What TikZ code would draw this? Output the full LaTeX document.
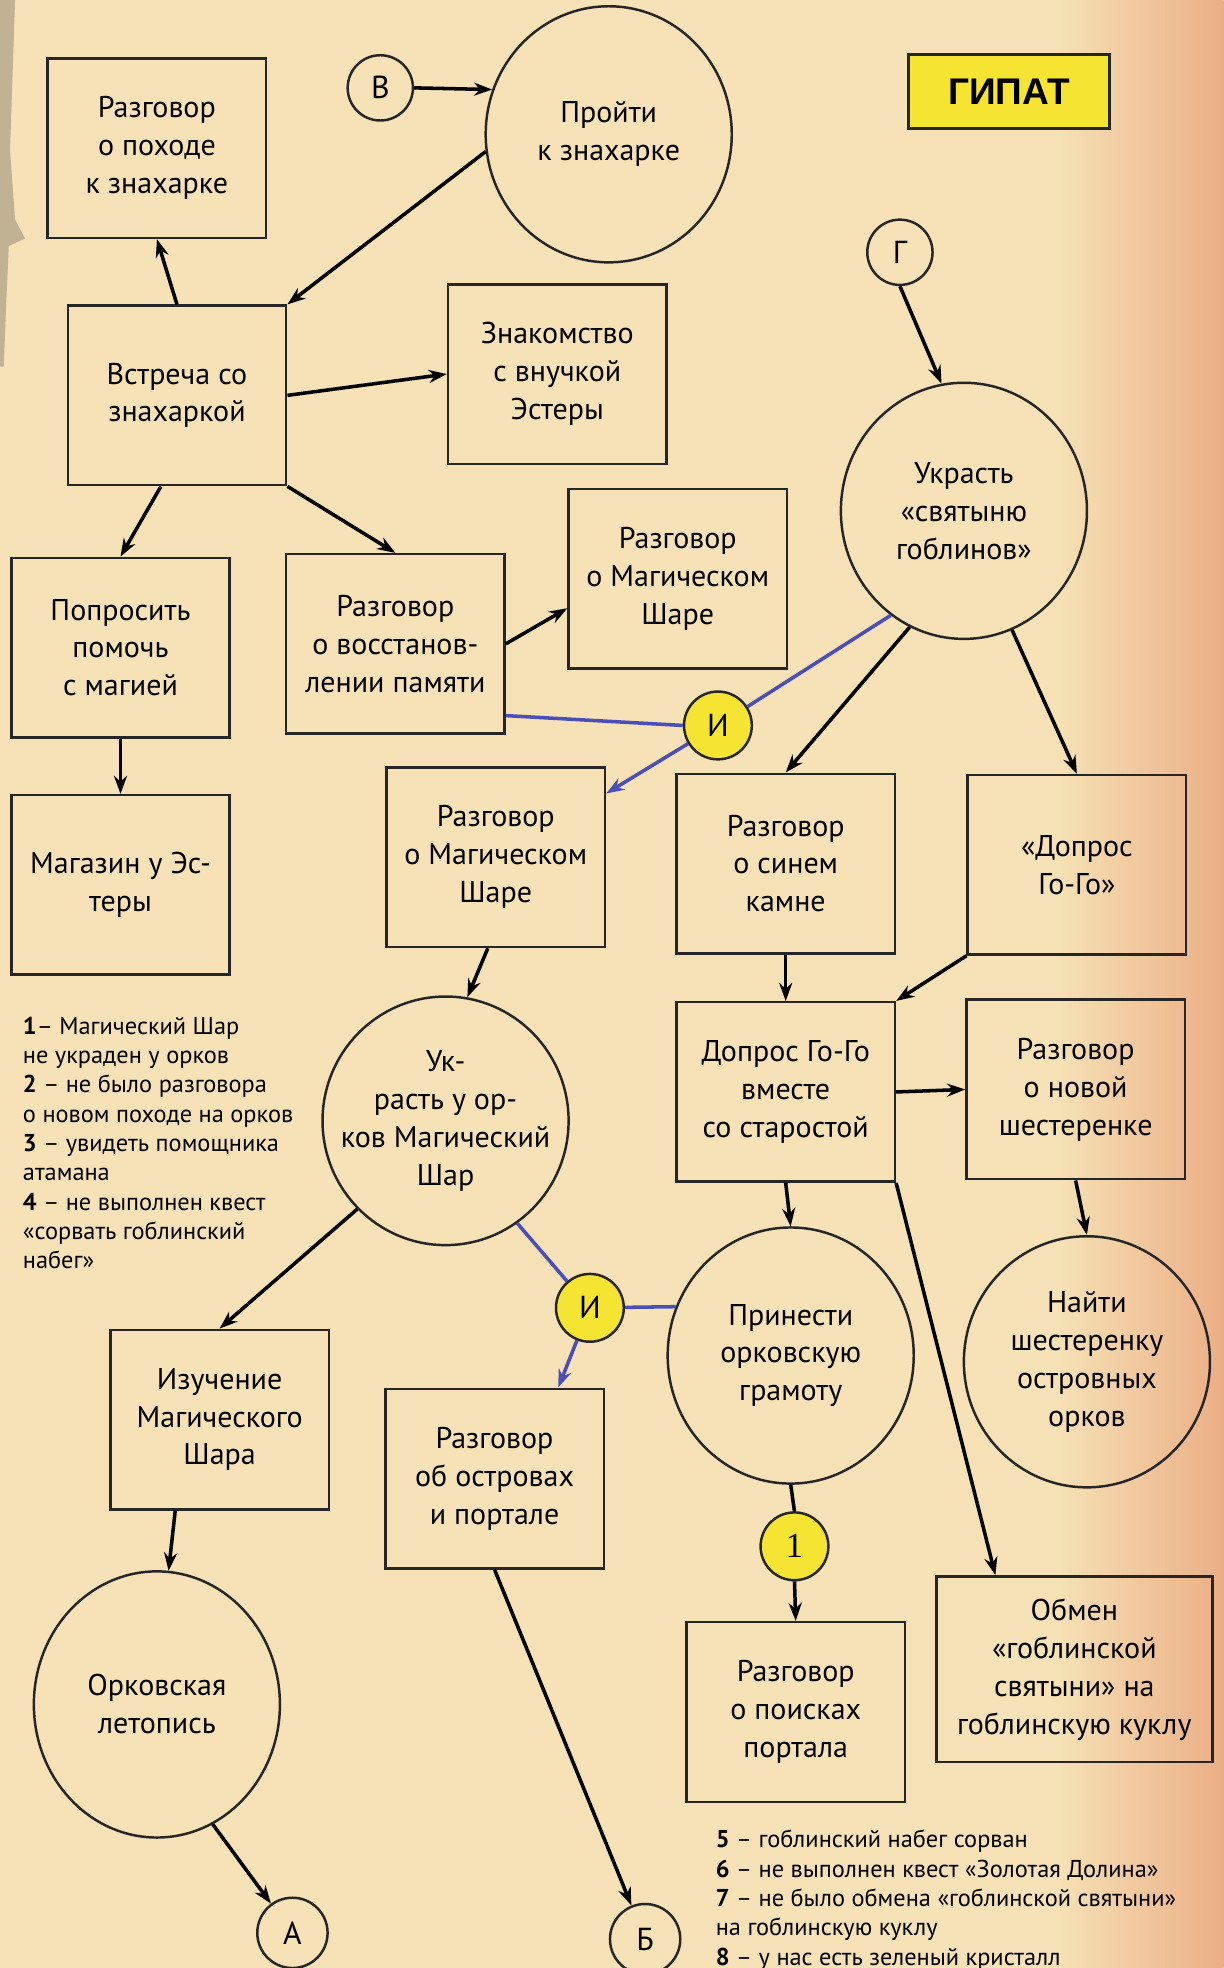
\documentclass[tikz,border=0pt]{standalone}
\usepackage{fontspec}
\setmainfont{PT Sans}
\newfontfamily\titelfont{Liberation Sans}
\newfontfamily\zifferfont{Liberation Serif}
\usetikzlibrary{shapes.geometric, arrows.meta}

\definecolor{papier}{HTML}{F6E2B6}
\definecolor{papierrand}{HTML}{ECAE86}
\definecolor{gelb}{HTML}{F6E433}
\definecolor{lila}{HTML}{4A4FB8}
\definecolor{rissgrau}{HTML}{958B78}

\tikzset{
	kasten/.style={draw=black!85, line width=1.4pt, minimum width=4.35cm, minimum height=3.575cm, inner sep=2pt, align=center, font=\fontsize{17}{21.5}\selectfont},
	blase/.style={ellipse, draw=black!85, line width=1.4pt, minimum width=4.9cm, minimum height=5.1cm, inner sep=0pt},
	blasetext/.style={align=center, font=\fontsize{17}{21.5}\selectfont},
	marke/.style={circle, draw=black!85, line width=1.4pt, minimum size=1.3cm, inner sep=0pt, font=\fontsize{18}{20}\selectfont},
	undkreis/.style={marke, fill=gelb, minimum size=1.35cm},
	pfeil/.style={line width=2pt, -{Stealth[length=3.6mm, width=2.6mm]}},
	linie/.style={line width=2pt},
	blauweg/.style={line width=2pt, draw=lila},
	blaupfeil/.style={pfeil, draw=lila, -{Stealth[length=3.6mm, width=2.6mm, fill=lila]}},
	notiz/.style={anchor=north west, align=left, inner sep=0pt, font=\fontsize{13.8}{16.6}\selectfont}
}

\begin{document}
\begin{tikzpicture}[x=0.025cm, y=-0.025cm]
	\useasboundingbox (0,0) rectangle (975,1568);
	% papier
	\fill[papier] (0,0) rectangle (975,1568);
	\shade[left color=papier, right color=papierrand] (840,0) rectangle (975,1568);
	\fill[rissgrau, opacity=0.55] (0,0) -- (12,0) -- (10,60) -- (8,120) -- (12,175) -- (20,190) -- (7,196) -- (5,240) -- (3,292) -- (0,292) -- cycle;

	% titel
	\node[draw=black!85, fill=gelb, line width=1.4pt, minimum width=4cm, minimum height=1.475cm, font=\titelfont\bfseries\fontsize{21}{24}\selectfont] (titel) at (804,73) {ГИПАТ};

	% obere reihe
	\node[kasten] (feldzug) at (125,118) {Разговор\\о походе\\к знахарке};
	\node[marke] (vorB) at (303,70) {В};
	\node[blase, label={[blasetext]center:Пройти\\к знахарке}] (gehen) at (485,107) {};
	\node[kasten] (treffen) at (141,315) {Встреча со\\знахаркой};
	\node[kasten] (enkelin) at (444,298) {Знакомство\\с внучкой\\Эстеры};
	\node[marke] (vorG) at (717,201) {Г};
	\node[blase, label={[blasetext]center:Украсть\\«святыню\\гоблинов»}] (klauen) at (768,407) {};

	% zweite reihe
	\node[kasten] (bitten) at (96,516) {Попросить\\помочь\\с магией};
	\node[kasten] (erinnerung) at (315,513) {Разговор\\о восстанов-\\лении памяти};
	\node[kasten] (kugeleins) at (540,461) {Разговор\\о Магическом\\Шаре};
	\node[undkreis] (undeins) at (572,578) {И};
	\node[kasten] (laden) at (96,705) {Магазин у Эс-\\теры};
	\node[kasten] (kugelzwei) at (395,683) {Разговор\\о Магическом\\Шаре};
	\node[kasten] (stein) at (626,688) {Разговор\\о синем\\камне};
	\node[kasten] (verhoer) at (858,689) {«Допрос\\Го-Го»};

	% mitte
	\node[blase, minimum height=4.95cm, label={[blasetext]center:Ук-\\расть у ор-\\ков Магический\\Шар}] (raub) at (355,893) {};
	\node[kasten] (dorf) at (626,870) {Допрос Го-Го\\вместе\\со старостой};
	\node[kasten] (zahnrad) at (857,868) {Разговор\\о новой\\шестеренке};
	\node[undkreis] (undzwei) at (470,1042) {И};
	\node[blase, label={[blasetext]center:Принести\\орковскую\\грамоту}] (urkunde) at (630,1080) {};
	\node[blase, minimum height=5cm, label={[blasetext]center:Найти\\шестеренку\\островных\\орков}] (finden) at (866,1085) {};

	% untere reihe
	\node[kasten] (studie) at (175,1131) {Изучение\\Магического\\Шара};
	\node[kasten] (inseln) at (394,1178) {Разговор\\об островах\\и портале};
	\node[undkreis, font=\zifferfont\fontsize{20}{22}\selectfont] (eins) at (633,1232) {1};
	\node[kasten, minimum width=5.5cm, minimum height=3.7cm] (tausch) at (856,1330) {Обмен\\«гоблинской\\святыни» на\\гоблинскую куклу};
	\node[kasten] (portal) at (634,1364) {Разговор\\о поисках\\портала};
	\node[blase, minimum height=5.3cm, label={[blasetext]center:Орковская\\летопись}] (chronik) at (125,1358) {};
	\node[marke, minimum size=1.4cm] (vorA) at (233,1540) {А};
	\node[marke, minimum size=1.4cm] (vorBe) at (514,1545) {Б};

	% bedingungen
	\node[notiz] (notizlinks) at (18,810) {\textbf{1}– Магический Шар\\не украден у орков\\\textbf{2} – не было разговора\\о новом походе на орков\\\textbf{3} – увидеть помощника\\атамана\\\textbf{4} – не выполнен квест\\«сорвать гоблинский\\набег»};
	\node[notiz] (notizunten) at (570,1458) {\textbf{5} – гоблинский набег сорван\\\textbf{6} – не выполнен квест «Золотая Долина»\\\textbf{7} – не было обмена «гоблинской святыни»\\на гоблинскую куклу\\\textbf{8} – у нас есть зеленый кристалл};

	% pfeile oben
	\draw[pfeil] (treffen.north) -- (feldzug.south);
	\draw[pfeil] (vorB.east) -- (gehen.159);
	\draw[pfeil] (gehen.188) -- (treffen.north east);
	\draw[pfeil] (treffen.east) -- (enkelin.west);
	\draw[pfeil] (treffen.-100) -- (bitten.north);
	\draw[pfeil] (treffen.south east) -- (erinnerung.north);
	\draw[pfeil] (erinnerung.east) -- (kugeleins.-165);
	\draw[pfeil] (bitten.south) -- (laden.north);
	\draw[pfeil] (vorG.south) -- (klauen.100);
	\draw[pfeil] (klauen.-115) -- (stein.north);
	\draw[pfeil] (klauen.-68) -- (verhoer.north);

	% blaue verbindungen
	\draw[blauweg] (erinnerung.-33) -- (undeins.west);
	\draw[blauweg] (klauen.-125) -- (undeins);
	\draw[blaupfeil] (undeins) -- (kugelzwei.30);
	\draw[blauweg] (raub.-55) -- (undzwei);
	\draw[blauweg] (urkunde.157) -- (undzwei);
	\draw[blaupfeil] (undzwei) -- (inseln.55);

	% pfeile mitte und unten
	\draw[pfeil] (kugelzwei.-95) -- (raub.80);
	\draw[pfeil] (stein.south) -- (dorf.north);
	\draw[pfeil] (verhoer.south west) -- (dorf.north east);
	\draw[pfeil] (dorf.east) -- (zahnrad.west);
	\draw[pfeil] (dorf.south) -- (urkunde.north);
	\draw[pfeil] (zahnrad.south) -- (finden.north);
	\draw[pfeil] (dorf.south east) -- (tausch.130);
	\draw[pfeil] (raub.-135) -- (studie.north);
	\draw[pfeil] (studie.-116) -- (chronik.85);
	\draw[linie] (urkunde.south) -- (eins.north);
	\draw[pfeil] (eins.south) -- (portal.north);
	\draw[pfeil] (chronik.-65) -- (vorA);
	\draw[pfeil] (inseln.south) -- (vorBe);
\end{tikzpicture}
\end{document}
